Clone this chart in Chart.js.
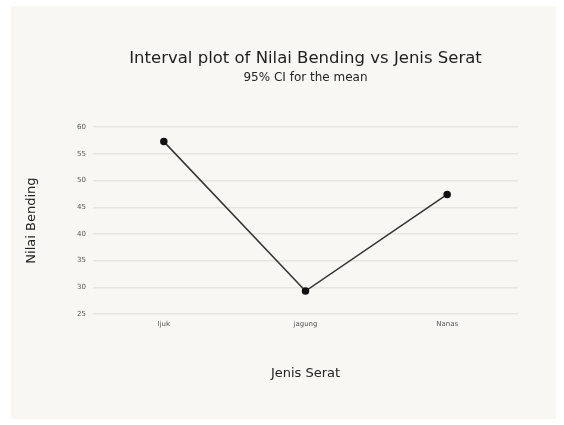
<!DOCTYPE html>
<html>
<head>
<meta charset="utf-8">
<script src="https://cdn.jsdelivr.net/npm/chart.js@4/dist/chart.umd.min.js"></script>
<style>
  html, body { margin: 0; padding: 0; background: #ffffff; }
  #panel { position: absolute; left: 11px; top: 6px; width: 545px; height: 413px; background: #f8f7f3; }
  #wrap { position: absolute; left: 0; top: 0; width: 564px; height: 425px; }
</style>
</head>
<body>
<div id="panel"></div>
<div id="wrap"><canvas id="chart"></canvas></div>
<script>
var categories = ["Ijuk", "jagung", "Nanas"];
var meanValues = [57.3, 29.3, 47.4];
var yTicks = [25, 30, 35, 40, 45, 50, 55, 60];

var fontFamily = "'DejaVu Sans', sans-serif";

var chartData = {
  labels: categories,
  datasets: [{
    label: "Nilai Bending",
    data: meanValues,
    borderColor: "#333333",
    borderWidth: 1.5,
    backgroundColor: "#111111",
    pointBackgroundColor: "#111111",
    pointBorderColor: "#111111",
    pointRadius: 3,
    tension: 0
  }]
};

var chartOptions = {
  responsive: true,
  maintainAspectRatio: false,
  animation: false,
  layout: { padding: 0 },
  plugins: {
    legend: { display: false },
    tooltip: { enabled: false },
    title: {
      display: true,
      fullSize: false,
      text: "Interval plot of Nilai Bending vs Jenis Serat",
      color: "#1e1e1e",
      font: { family: fontFamily, size: 16.5, weight: "normal" },
      padding: { top: 49, bottom: 0 }
    },
    subtitle: {
      display: true,
      fullSize: false,
      text: "95% CI for the mean",
      color: "#222222",
      font: { family: fontFamily, size: 12, weight: "normal" },
      padding: { top: 2, bottom: 42 }
    }
  },
  scales: {
    x: {
      offset: true,
      grid: { display: false },
      border: { display: false },
      ticks: { color: "#555555", font: { family: fontFamily, size: 7 }, padding: -2 },
      title: {
        display: true,
        text: "Jenis Serat",
        color: "#222222",
        font: { family: fontFamily, size: 13 },
        padding: { top: 0, bottom: 44 }
      },
      afterFit: function (scale) { scale.height = 111; }
    },
    y: {
      min: 25,
      max: 60,
      afterBuildTicks: function (scale) {
        scale.ticks = yTicks.map(function (v) { return { value: v }; });
      },
      grid: { color: "#e7e5e0", lineWidth: 1.5, drawTicks: false },
      border: { display: false },
      ticks: { color: "#555555", font: { family: fontFamily, size: 7 }, padding: 7 },
      title: {
        display: true,
        text: "Nilai Bending",
        color: "#222222",
        font: { family: fontFamily, size: 13 },
        padding: { top: 24, bottom: 0 }
      },
      afterFit: function (scale) { scale.width = 93; }
    },
    yRight: {
      position: "right",
      min: 25,
      max: 60,
      grid: { display: false },
      border: { display: false },
      ticks: { display: false },
      afterFit: function (scale) { scale.width = 46; }
    }
  }
};

var chart = new Chart(document.getElementById("chart"), {
  type: "line",
  data: chartData,
  options: chartOptions
});
</script>
</body>
</html>
